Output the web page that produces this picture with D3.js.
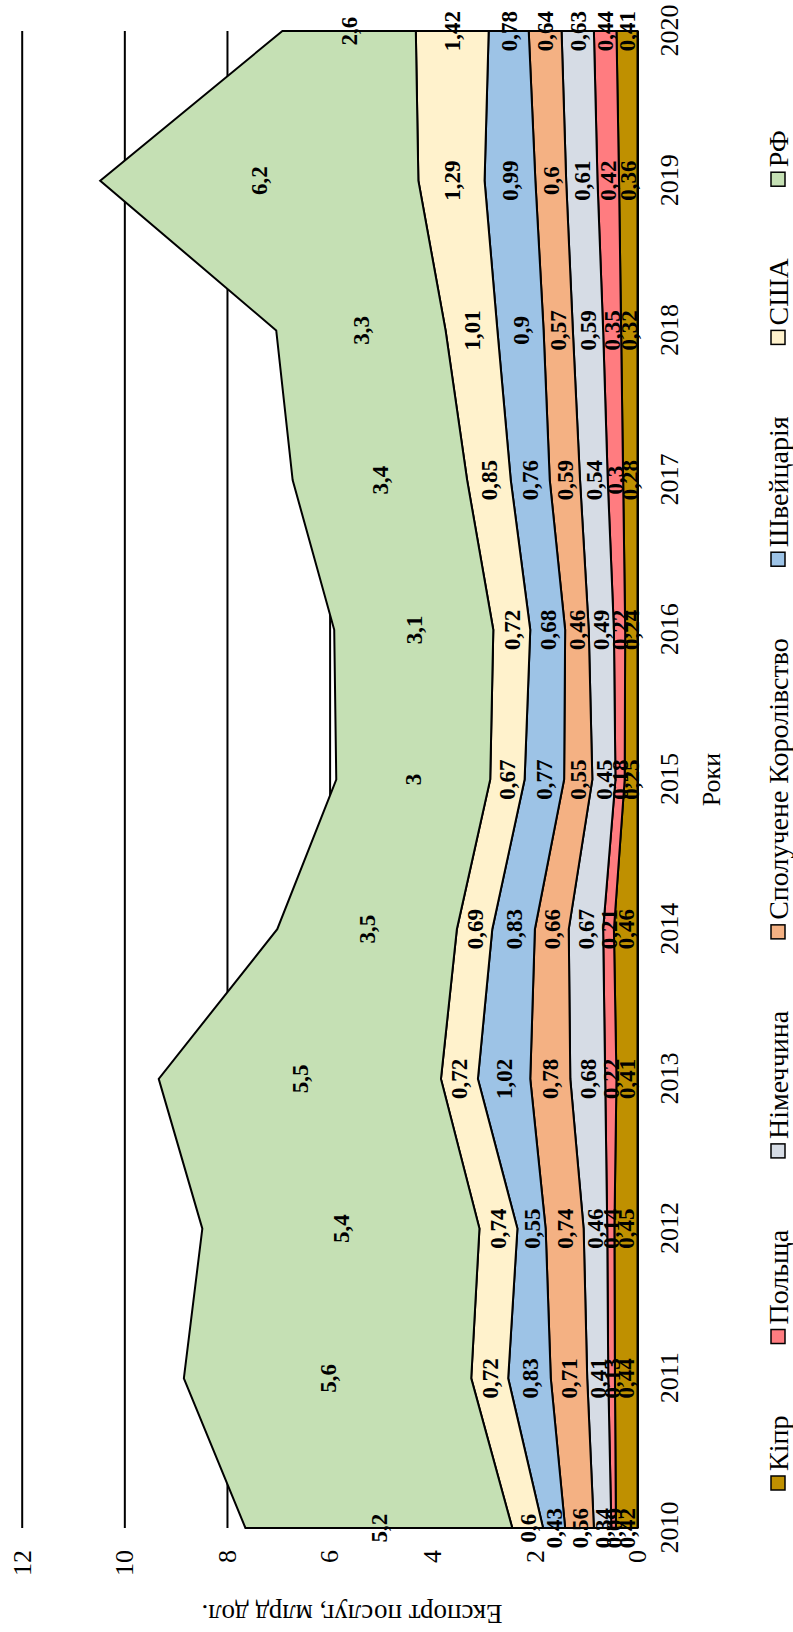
<!DOCTYPE html>
<html>
<head>
<meta charset="utf-8">
<script src="https://cdn.jsdelivr.net/npm/d3@7"></script>
<style>
  body { margin: 0; background: #fff; }
  text { font-family: "Liberation Serif", "Times New Roman", serif; fill: #000; }
</style>
</head>
<body>
<div id="chart"></div>
<script>
// Data (billion USD, services export)
let years = [2010, 2011, 2012, 2013, 2014, 2015, 2016, 2017, 2018, 2019, 2020]
let countries = ['Кіпр', 'Польща', 'Німеччина', 'Сполучене Королівство', 'Швейцарія', 'США', 'РФ']
let cyprus  = [0.42, 0.44, 0.45, 0.41, 0.46, 0.25, 0.24, 0.28, 0.32, 0.36, 0.41]
let poland  = [0.09, 0.13, 0.14, 0.22, 0.21, 0.18, 0.22, 0.3, 0.35, 0.42, 0.44]
let germany = [0.34, 0.41, 0.46, 0.68, 0.67, 0.45, 0.49, 0.54, 0.59, 0.61, 0.63]
let uk      = [0.56, 0.71, 0.74, 0.78, 0.66, 0.55, 0.46, 0.59, 0.57, 0.6, 0.64]
let swiss   = [0.43, 0.83, 0.55, 1.02, 0.83, 0.77, 0.68, 0.76, 0.9, 0.99, 0.78]
let usa     = [0.6, 0.72, 0.74, 0.72, 0.69, 0.67, 0.72, 0.85, 1.01, 1.29, 1.42]
let russia  = [5.2, 5.6, 5.4, 5.5, 3.5, 3, 3.1, 3.4, 3.3, 6.2, 2.6]
let series = [cyprus, poland, germany, uk, swiss, usa, russia]
let valueTicks = [0, 2, 4, 6, 8, 10, 12]
let colors = ['#BF9000', '#FF7C80', '#D6DCE5', '#F4B183', '#9DC3E6', '#FFF2CC', '#C5E0B4']

// Page is portrait; the chart itself is drawn landscape and turned 90° left
let pageW = 793
let pageH = 1632
let margin = {t: 21.7, r: 31, b: 155.5, l: 104}
let width = pageH - margin.l - margin.r
let height = pageW - margin.t - margin.b

let svg = d3.select('#chart')
  .append('svg')
  .attr('width', pageW)
  .attr('height', pageH)

let chart = svg.append('g')
  .attr('transform', `translate(0, ${pageH}) rotate(-90)`)

let plot = chart.append('g')
  .attr('transform', `translate(${margin.l}, ${margin.t})`)

// Scales
let x = d3.scalePoint()
  .domain(years)
  .range([0, width])

let y = d3.scaleLinear()
  .domain([0, 12])
  .range([height, 0])

// Gridlines + value labels
let yAxis = d3.axisLeft(y)
  .tickValues(valueTicks)
  .tickSize(-width)
  .tickPadding(22)
  .tickFormat(d3.format('d'))

plot.append('g')
  .attr('class', 'y-axis')
  .call(yAxis)
  .call(g => g.select('.domain').remove())
  .call(g => g.selectAll('line').attr('stroke', '#000').attr('stroke-width', 2))
  .call(g => g.selectAll('text').style('font-size', '26px').style('font-family', '"Liberation Serif", serif'))

// Year labels
let xAxis = d3.axisBottom(x)
  .tickSize(0)
  .tickPadding(22)

plot.append('g')
  .attr('class', 'x-axis')
  .attr('transform', `translate(0, ${height})`)
  .call(xAxis)
  .call(g => g.select('.domain').remove())
  .call(g => g.selectAll('text').style('font-size', '26px').style('font-family', '"Liberation Serif", serif'))

// Stack the series
let rows = years.map(function(yr, i) {
  let row = {year: yr}
  countries.forEach(function(c, j) { row[c] = series[j][i] })
  return row
})
let stacked = d3.stack().keys(countries)(rows)

let area = d3.area()
  .x(d => x(d.data.year))
  .y0(d => y(d[0]))
  .y1(d => y(d[1]))

plot.append('g')
  .selectAll('path')
  .data(stacked)
  .join('path')
  .attr('d', area)
  .attr('fill', (d, i) => colors[i])
  .attr('stroke', '#000')
  .attr('stroke-width', 2)
  .attr('stroke-linejoin', 'miter')

// Data labels
let labels = plot.append('g')
stacked.forEach(function(s) {
  labels.selectAll(null)
    .data(s)
    .join('text')
    .attr('x', d => x(d.data.year))
    .attr('y', d => y((d[0] + d[1]) / 2))
    .attr('dy', '0.35em')
    .attr('text-anchor', 'middle')
    .style('font-size', '23px')
    .style('font-weight', 'bold')
    .text(d => String(d.data[s.key]).replace('.', ','))
})

// Axis titles
chart.append('text')
  .attr('x', margin.l + width / 2)
  .attr('y', 720)
  .attr('text-anchor', 'middle')
  .style('font-size', '26px')
  .text('Роки')

chart.append('text')
  .attr('transform', 'translate(18, 352) rotate(-90)')
  .attr('dy', '0.35em')
  .attr('text-anchor', 'middle')
  .style('font-size', '27px')
  .text('Експорт послуг, млрд дол.')

// Legend
let legendStart = 142
let legendEnd = 1502
let legendY = 778
let items = chart.append('g')
  .attr('class', 'legend')
  .selectAll('g')
  .data(countries)
  .join('g')

items.append('rect')
  .attr('y', -7)
  .attr('width', 14)
  .attr('height', 14)
  .attr('fill', (d, i) => colors[i])
  .attr('stroke', '#000')
  .attr('stroke-width', 1.5)

items.append('text')
  .attr('x', 19)
  .attr('dy', '0.35em')
  .style('font-size', '28px')
  .text(d => d)

let itemW = []
items.select('text').each(function() { itemW.push(19 + this.getComputedTextLength()) })
let spacing = (legendEnd - legendStart - d3.sum(itemW)) / (countries.length - 1)
let pos = legendStart
items.attr('transform', function(d, i) {
  let p = pos
  pos += itemW[i] + spacing
  return `translate(${p}, ${legendY})`
})
</script>
</body>
</html>
